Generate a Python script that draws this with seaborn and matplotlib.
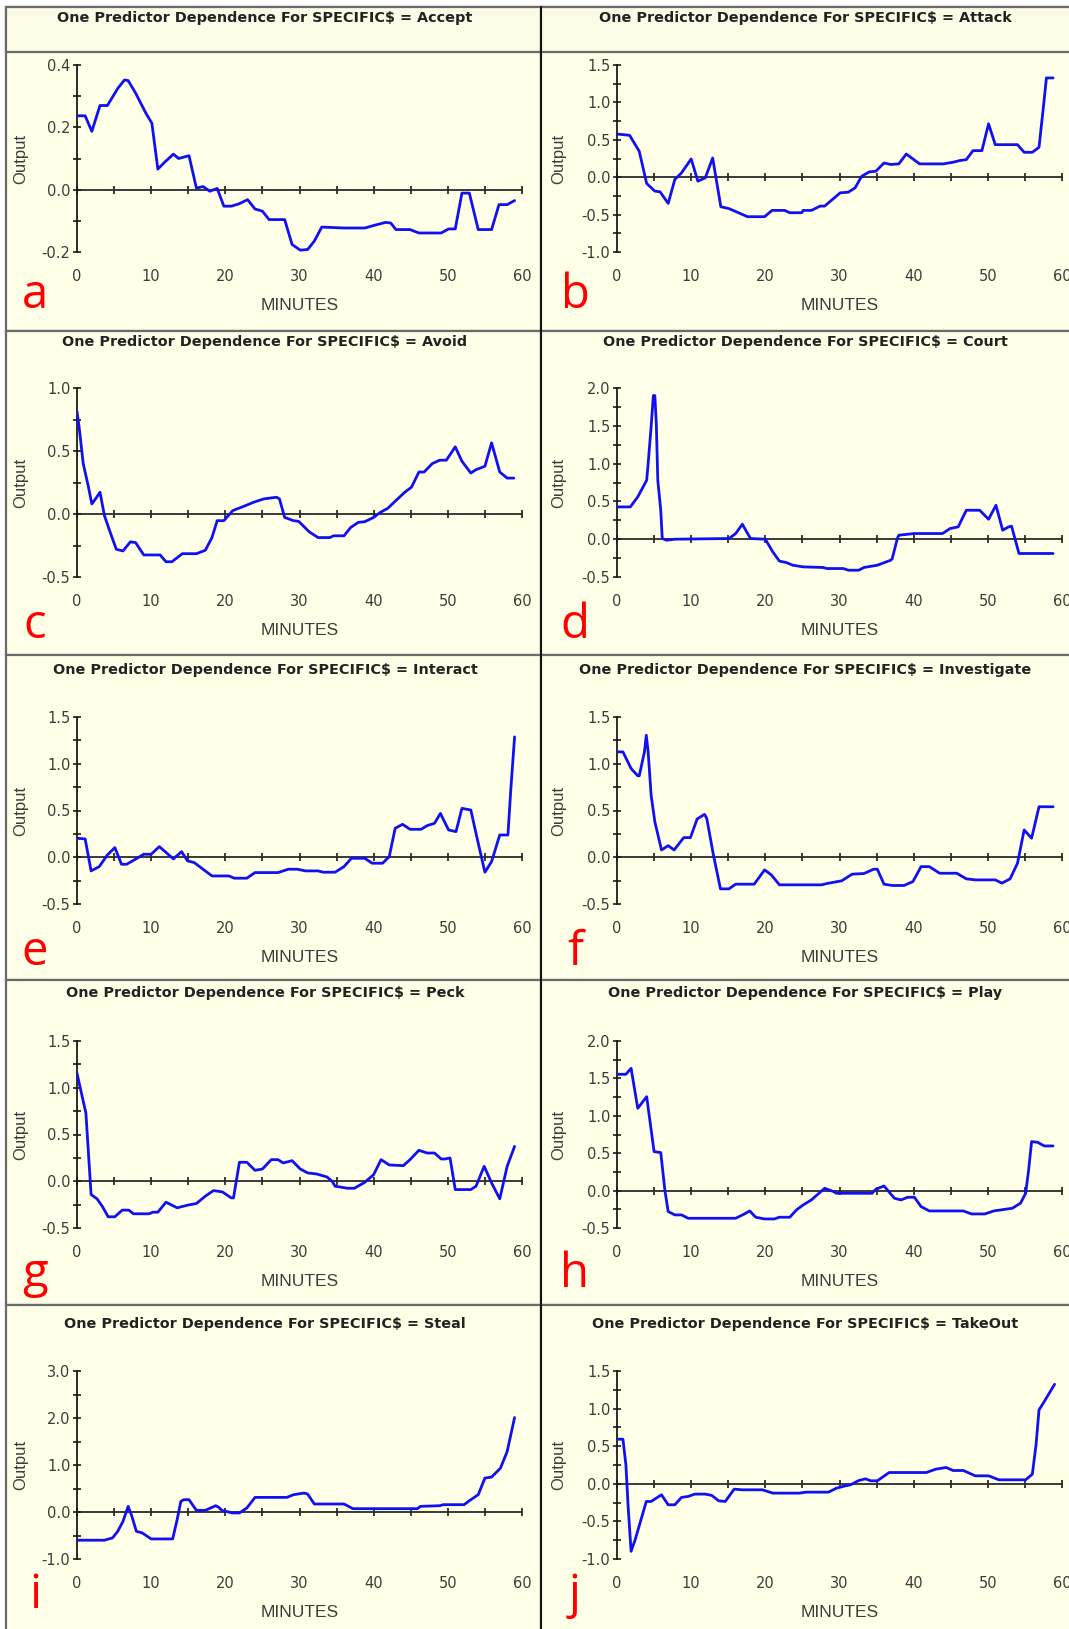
import numpy as np
import pandas as pd
import matplotlib
matplotlib.use("Agg")
import matplotlib.pyplot as plt
from matplotlib.patches import Rectangle
from matplotlib.lines import Line2D
from matplotlib.ticker import MultipleLocator, FormatStrFormatter
import seaborn as sns

# ---------------- data ----------------
categories = ["Accept", "Attack", "Avoid", "Court", "Interact",
              "Investigate", "Peck", "Play", "Steal", "TakeOut"]
panel_letters = ["a", "b", "c", "d", "e", "f", "g", "h", "i", "j"]
x_ticks = [0, 10, 20, 30, 40, 50, 60]

accept_x = [0, 1.1, 2.0, 3.1, 4.1, 5.5, 6.4, 6.9, 7.9, 9.3, 10.1, 10.9, 11.9, 13.0, 13.7, 15.1, 16.1, 17.0, 17.9, 18.9,
            19.8, 20.8, 21.9, 23.0, 24.0, 25.0, 25.9, 28.0, 29.0, 30.1, 31.1, 32.0, 33.0, 36.0, 38.8, 40.0, 41.6, 42.3,
            43.0, 44.9, 46.1, 49.1, 50.1, 51.0, 51.9, 52.9, 54.1, 55.9, 56.9, 58.0, 59.0]
accept_y = [0.237, 0.237, 0.187, 0.27, 0.27, 0.325, 0.352, 0.35, 0.31, 0.245, 0.213, 0.066, 0.09, 0.114, 0.10, 0.109,
            0.005, 0.01, -0.005, 0.004, -0.053, -0.053, -0.045, -0.032, -0.062, -0.069, -0.096, -0.096, -0.176, -0.194,
            -0.192, -0.165, -0.12, -0.123, -0.123, -0.115, -0.105, -0.107, -0.128, -0.128, -0.139, -0.139, -0.126,
            -0.126, -0.011, -0.011, -0.128, -0.128, -0.048, -0.048, -0.035]

attack_x = [0, 1.7, 3.0, 4.0, 5.1, 5.8, 6.9, 7.8, 8.7, 10.0, 10.9, 11.9, 12.9, 14.0, 15.1, 17.6, 19.9, 20.9, 22.6, 23.3,
            24.9, 25.1, 26.2, 27.4, 28.0, 30.1, 31.2, 32.1, 33.0, 34.0, 34.9, 36.0, 36.9, 38.0, 39.0, 39.9, 40.8, 44.0,
            45.3, 46.2, 47.1, 48.0, 49.2, 50.1, 51.0, 54.0, 54.9, 56.0, 56.9, 57.5, 57.9, 58.8]
attack_y = [0.577, 0.56, 0.346, -0.084, -0.186, -0.195, -0.35, -0.03, 0.058, 0.244, -0.053, -0.009, 0.257, -0.395,
            -0.42, -0.528, -0.528, -0.444, -0.444, -0.475, -0.475, -0.444, -0.444, -0.386, -0.386, -0.209, -0.2, -0.142,
            0.013, 0.07, 0.08, 0.19, 0.17, 0.178, 0.31, 0.244, 0.178, 0.178, 0.2, 0.222, 0.235, 0.355, 0.355, 0.714,
            0.435, 0.435, 0.333, 0.333, 0.4, 0.945, 1.327, 1.327]

avoid_x = [0, 0.28, 0.84, 1.55, 2.0, 2.5, 3.1, 3.7, 4.4, 5.3, 6.2, 7.2, 7.9, 9.0, 11.2, 12.0, 12.8, 14.2, 16.1, 17.3,
           18.2, 18.9, 19.8, 21.0, 22.4, 23.8, 25.2, 26.9, 27.3, 28.0, 29.2, 29.9, 31.3, 32.5, 34.1, 34.6, 36.0, 36.9,
           37.9, 38.8, 40.0, 40.9, 41.9, 43.0, 44.2, 45.1, 46.1, 46.8, 47.9, 48.9, 49.8, 51.0, 51.9, 53.1, 53.8, 55.0,
           55.9, 57.0, 58.0, 58.9]
avoid_y = [0.813, 0.693, 0.4, 0.213, 0.08, 0.12, 0.173, -0.013, -0.133, -0.28, -0.293, -0.221, -0.227, -0.325, -0.325,
           -0.379, -0.379, -0.315, -0.315, -0.288, -0.187, -0.053, -0.053, 0.027, 0.059, 0.093, 0.12, 0.133, 0.12,
           -0.027, -0.053, -0.059, -0.141, -0.187, -0.187, -0.173, -0.173, -0.107, -0.067, -0.061, -0.027, 0.013,
           0.045, 0.107, 0.173, 0.213, 0.333, 0.333, 0.4, 0.427, 0.427, 0.533, 0.419, 0.325, 0.352, 0.379, 0.565,
           0.333, 0.285, 0.285]

court_x = [0, 1.8, 2.8, 4.0, 4.2, 4.6, 4.9, 5.1, 5.3, 5.5, 5.9, 6.1, 6.7, 7.8, 15.1, 16.0, 16.9, 18.0, 20.0, 21.0,
           21.9, 22.8, 23.7, 25.1, 27.8, 28.3, 30.5, 31.2, 32.6, 33.3, 35.1, 36.9, 37.1, 37.8, 38.0, 40.1, 43.9, 44.9,
           46.0, 47.1, 48.9, 50.1, 51.1, 52.0, 52.8, 53.2, 54.2, 58.8]
court_y = [0.427, 0.427, 0.56, 0.78, 1.0, 1.485, 1.9, 1.9, 1.53, 0.78, 0.383, 0.009, -0.013, 0.0, 0.009, 0.075, 0.198,
           0.009, 0.0, -0.167, -0.29, -0.308, -0.344, -0.366, -0.374, -0.388, -0.388, -0.41, -0.41, -0.374, -0.344,
           -0.278, -0.26, 0.009, 0.053, 0.075, 0.075, 0.141, 0.163, 0.383, 0.383, 0.264, 0.449, 0.119, 0.163, 0.172,
           -0.189, -0.189]

interact_x = [0, 1.1, 1.9, 3.0, 4.1, 5.1, 6.0, 6.7, 8.1, 9.0, 10.0, 11.1, 13.0, 14.1, 14.9, 15.8, 18.2, 20.5, 21.2,
              22.9, 24.0, 27.1, 28.5, 29.7, 30.8, 32.5, 33.2, 34.8, 36.0, 37.0, 38.8, 39.8, 41.2, 42.1, 42.9, 43.9,
              44.9, 46.4, 47.2, 48.2, 49.0, 50.1, 51.1, 51.9, 53.1, 54.0, 55.0, 55.9, 57.0, 58.1, 58.5, 59.0]
interact_y = [0.203, 0.196, -0.146, -0.1, 0.025, 0.103, -0.075, -0.075, -0.011, 0.032, 0.032, 0.114, -0.018, 0.06,
              -0.039, -0.057, -0.2, -0.2, -0.224, -0.224, -0.164, -0.164, -0.128, -0.128, -0.146, -0.146, -0.16,
              -0.16, -0.1, -0.011, -0.011, -0.064, -0.064, 0.007, 0.31, 0.352, 0.299, 0.299, 0.338, 0.363, 0.469,
              0.292, 0.274, 0.523, 0.505, 0.185, -0.16, -0.046, 0.238, 0.238, 0.736, 1.287]

investigate_x = [0, 0.8, 1.9, 2.8, 3.0, 3.7, 3.95, 4.2, 4.6, 5.1, 6.0, 6.9, 7.7, 9.0, 9.9, 10.8, 11.8, 12.1, 13.0,
                 13.95, 15.1, 16.0, 18.5, 19.9, 20.8, 21.9, 27.6, 28.3, 30.3, 31.7, 33.3, 34.6, 35.1, 36.0, 37.1,
                 38.7, 39.9, 41.0, 42.1, 43.5, 45.8, 47.1, 48.3, 51.0, 51.9, 53.0, 54.0, 54.9, 55.9, 56.9, 58.8]
investigate_y = [1.127, 1.127, 0.949, 0.871, 0.871, 1.127, 1.305, 1.127, 0.665, 0.38, 0.078, 0.124, 0.078, 0.21,
                 0.21, 0.409, 0.459, 0.416, 0.025, -0.338, -0.338, -0.288, -0.288, -0.135, -0.188, -0.295, -0.295,
                 -0.281, -0.252, -0.181, -0.174, -0.128, -0.128, -0.288, -0.302, -0.302, -0.26, -0.1, -0.1, -0.171,
                 -0.171, -0.231, -0.242, -0.242, -0.277, -0.231, -0.064, 0.292, 0.203, 0.54, 0.54]

peck_x = [0, 0.6, 1.2, 1.9, 2.7, 3.4, 4.2, 5.1, 6.1, 7.0, 7.6, 9.75, 10.2, 10.9, 12.0, 13.5, 14.9, 16.1, 17.3, 18.4,
          19.6, 20.8, 21.1, 21.9, 22.9, 24.0, 25.0, 26.2, 27.1, 27.8, 29.0, 30.1, 31.1, 32.3, 33.7, 34.4, 34.8, 36.5,
          37.4, 38.8, 40.0, 41.0, 42.1, 44.0, 44.9, 46.1, 47.2, 48.2, 49.1, 49.6, 50.3, 51.0, 53.1, 53.8, 54.9, 55.9,
          57.0, 58.0, 59.0]
peck_y = [1.155, 0.942, 0.729, -0.142, -0.188, -0.267, -0.38, -0.38, -0.309, -0.309, -0.348, -0.348, -0.331, -0.331,
          -0.224, -0.284, -0.256, -0.238, -0.16, -0.1, -0.114, -0.178, -0.178, 0.203, 0.203, 0.117, 0.131, 0.231,
          0.231, 0.196, 0.22, 0.131, 0.089, 0.078, 0.046, 0.0, -0.053, -0.075, -0.075, -0.011, 0.071, 0.231, 0.174,
          0.167, 0.231, 0.331, 0.302, 0.302, 0.238, 0.238, 0.249, -0.089, -0.089, -0.053, 0.16, -0.018, -0.188, 0.16,
          0.373]

play_x = [0, 1.2, 1.9, 2.8, 4.0, 5.0, 5.9, 6.45, 6.9, 7.8, 8.7, 9.6, 16.0, 17.1, 17.9, 18.7, 19.9, 21.2, 21.9, 23.3,
          24.2, 25.1, 26.2, 28.0, 29.2, 29.6, 34.4, 34.9, 36.0, 37.4, 38.3, 39.2, 40.1, 41.0, 42.1, 46.7, 47.8, 49.6,
          50.8, 53.3, 54.4, 55.1, 55.5, 55.9, 56.7, 57.6, 58.8]
play_y = [1.555, 1.555, 1.635, 1.1, 1.256, 0.521, 0.508, 0.009, -0.28, -0.325, -0.325, -0.37, -0.37, -0.316, -0.272,
          -0.356, -0.379, -0.379, -0.356, -0.356, -0.258, -0.192, -0.125, 0.031, -0.013, -0.036, -0.036, 0.018,
          0.062, -0.102, -0.125, -0.089, -0.089, -0.214, -0.272, -0.272, -0.312, -0.312, -0.272, -0.236, -0.169,
          -0.036, 0.276, 0.655, 0.646, 0.597, 0.597]

steal_x = [0, 3.7, 4.8, 5.5, 6.2, 6.9, 7.4, 8.0, 8.8, 10.0, 12.9, 13.5, 14.0, 14.4, 15.1, 16.1, 17.3, 18.7, 19.1,
           19.6, 20.1, 20.9, 21.9, 22.9, 24.0, 28.3, 29.2, 30.6, 31.1, 32.0, 36.0, 37.2, 45.9, 46.3, 48.9, 49.4,
           52.2, 52.9, 54.1, 55.0, 55.9, 57.1, 58.0, 59.0]
steal_y = [-0.6, -0.6, -0.55, -0.41, -0.2, 0.12, -0.09, -0.41, -0.446, -0.573, -0.573, -0.163, 0.226, 0.262, 0.262,
           0.035, 0.035, 0.134, 0.1, 0.028, 0.014, -0.02, -0.02, 0.085, 0.311, 0.311, 0.368, 0.403, 0.382, 0.17, 0.17,
           0.071, 0.071, 0.12, 0.134, 0.156, 0.156, 0.24, 0.368, 0.722, 0.743, 0.934, 1.288, 2.01]

takeout_x = [0, 0.8, 1.2, 1.5, 1.9, 2.45, 3.95, 4.6, 6.0, 6.9, 7.8, 8.7, 9.6, 10.5, 11.9, 12.8, 13.7, 14.6, 15.8,
             16.9, 19.6, 21.0, 24.6, 25.5, 28.5, 29.6, 30.8, 31.5, 32.6, 33.5, 34.2, 35.1, 36.7, 41.7, 43.0, 44.4,
             45.3, 46.7, 48.3, 50.1, 51.5, 55.1, 56.0, 56.5, 56.9, 57.6, 59.0]
takeout_y = [0.593, 0.593, 0.252, -0.3, -0.898, -0.743, -0.235, -0.235, -0.146, -0.279, -0.279, -0.181, -0.168,
             -0.137, -0.137, -0.155, -0.226, -0.235, -0.071, -0.08, -0.08, -0.124, -0.124, -0.111, -0.111, -0.058,
             -0.027, -0.013, 0.044, 0.066, 0.04, 0.04, 0.15, 0.15, 0.195, 0.217, 0.177, 0.177, 0.106, 0.106, 0.053,
             0.053, 0.128, 0.518, 0.982, 1.093, 1.323]

series_x = [accept_x, attack_x, avoid_x, court_x, interact_x, investigate_x, peck_x, play_x, steal_x, takeout_x]
series_y = [accept_y, attack_y, avoid_y, court_y, interact_y, investigate_y, peck_y, play_y, steal_y, takeout_y]

# y-axis scale per panel: (min, max, major step, minor step)
y_scales = [(-0.2, 0.4, 0.2, 0.1), (-1.0, 1.5, 0.5, 0.25), (-0.5, 1.0, 0.5, 0.25), (-0.5, 2.0, 0.5, 0.25),
            (-0.5, 1.5, 0.5, 0.25), (-0.5, 1.5, 0.5, 0.25), (-0.5, 1.5, 0.5, 0.25), (-0.5, 2.0, 0.5, 0.25),
            (-1.0, 3.0, 1.0, 0.5), (-1.0, 1.5, 0.5, 0.25)]

# ---------------- style ----------------
sns.set_style("white")
plt.rcParams['font.family'] = ['DejaVu Sans']
plt.rcParams['axes.unicode_minus'] = False

W, H = 1069, 1629
fig = plt.figure(figsize=(W / 100, H / 100), dpi=100)
fig.patch.set_facecolor('white')

CREAM = '#FFFFE8'
LINE_BLUE = '#1010F0'
TXT = '#3c3c3c'


def fx(p):
    return p / W


def fy(p):
    return 1 - p / H


row_tops = [7, 331, 655, 980, 1305]
row_bots = [331, 655, 980, 1305, 1640]
col_edges = [(6, 541), (541, 1080)]
ax_top = [65, 388, 717, 1041, 1371]
ax_bot = [252, 577, 904, 1228, 1559]
ax_cols = [(77, 522), (617, 1062)]
ylab_right = [28, 566]
title_y = [18, 342, 670, 993, 1324]
title_x = [265, 805]
letter_x = [35, 575]
letter_base = [308, 638, 965, 1287, 1608]

# panel backgrounds and borders
for r in range(5):
    for c in range(2):
        x0, x1 = col_edges[c]
        rect = Rectangle((fx(x0), fy(row_bots[r])), (x1 - x0) / W, (row_bots[r] - row_tops[r]) / H,
                         transform=fig.transFigure, facecolor=CREAM, edgecolor='#6a6a6a', lw=1.6, zorder=0)
        fig.add_artist(rect)
# header band of the first row
for c in range(2):
    x0, x1 = col_edges[c]
    fig.add_artist(Rectangle((fx(x0), fy(52)), (x1 - x0) / W, 45 / H, transform=fig.transFigure,
                             facecolor='#FBFBE6', edgecolor='#6a6a6a', lw=1.6, zorder=0.5))
# column divider
fig.add_artist(Line2D([fx(541), fx(541)], [fy(7), 0], transform=fig.transFigure, color='#111111', lw=1.4, zorder=1))

for i, name in enumerate(categories):
    r, c = divmod(i, 2)
    x0, x1 = ax_cols[c]
    top, bot = ax_top[r], ax_bot[r]
    ax = fig.add_axes([fx(x0), fy(bot), (x1 - x0) / W, (bot - top) / H])
    ax.set_facecolor('none')
    ymin, ymax, ymaj, ymin_step = y_scales[i]

    df = pd.DataFrame({'MINUTES': series_x[i], 'Output': series_y[i]})
    sns.lineplot(data=df, x='MINUTES', y='Output', ax=ax, color=LINE_BLUE, lw=2.0,
                 estimator=None, sort=False, zorder=5)

    ax.set_xlim(0, 60)
    ax.set_ylim(ymin, ymax)
    for s in ['top', 'right', 'bottom']:
        ax.spines[s].set_visible(False)
    ax.spines['left'].set_color('#1a1a1a')
    ax.spines['left'].set_linewidth(1.3)

    ax.yaxis.set_major_locator(MultipleLocator(ymaj))
    ax.yaxis.set_minor_locator(MultipleLocator(ymin_step))
    ax.yaxis.set_major_formatter(FormatStrFormatter('%.1f'))
    ax.tick_params(axis='y', which='both', direction='inout', length=5.5, width=1.2, color='#1a1a1a',
                   left=True, labelsize=10.5, labelcolor=TXT, pad=2)

    ax.set_xticks(x_ticks)
    ax.xaxis.set_minor_locator(MultipleLocator(5))
    ax.tick_params(axis='x', which='both', length=0, labelsize=10.5, labelcolor=TXT, pad=12)

    # zero line with tick marks
    frac = (0 - ymin) / (ymax - ymin)
    sec = ax.secondary_xaxis(frac)
    sec.set_xticks(x_ticks)
    sec.xaxis.set_minor_locator(MultipleLocator(5))
    sec.tick_params(axis='x', which='both', direction='inout', length=5.5, width=1.2, color='#1a1a1a',
                    labelbottom=False, labeltop=False)
    for s in sec.spines.values():
        s.set_color('#2a2a2a')
        s.set_linewidth(1.3)

    ax.set_xlabel('MINUTES', fontsize=12.5, color=TXT, family='Liberation Sans')
    ax.xaxis.set_label_coords(0.5, -46 / (bot - top))
    ax.set_ylabel('Output', fontsize=12, color=TXT, family='Liberation Sans')
    ax.yaxis.set_label_coords(-(x0 - ylab_right[c]) / (x1 - x0), 0.5)

    fig.text(fx(title_x[c]), fy(title_y[r]), f"One Predictor Dependence For SPECIFIC$ = {name}",
             ha='center', va='center', fontsize=10.4, fontweight='bold', color='#222222')
    fig.text(fx(letter_x[c]), fy(letter_base[r]), panel_letters[i], ha='center', va='baseline',
             fontsize=34, color='#ff0000', family='Open Sans')

fig.savefig('out.png', dpi=100)
